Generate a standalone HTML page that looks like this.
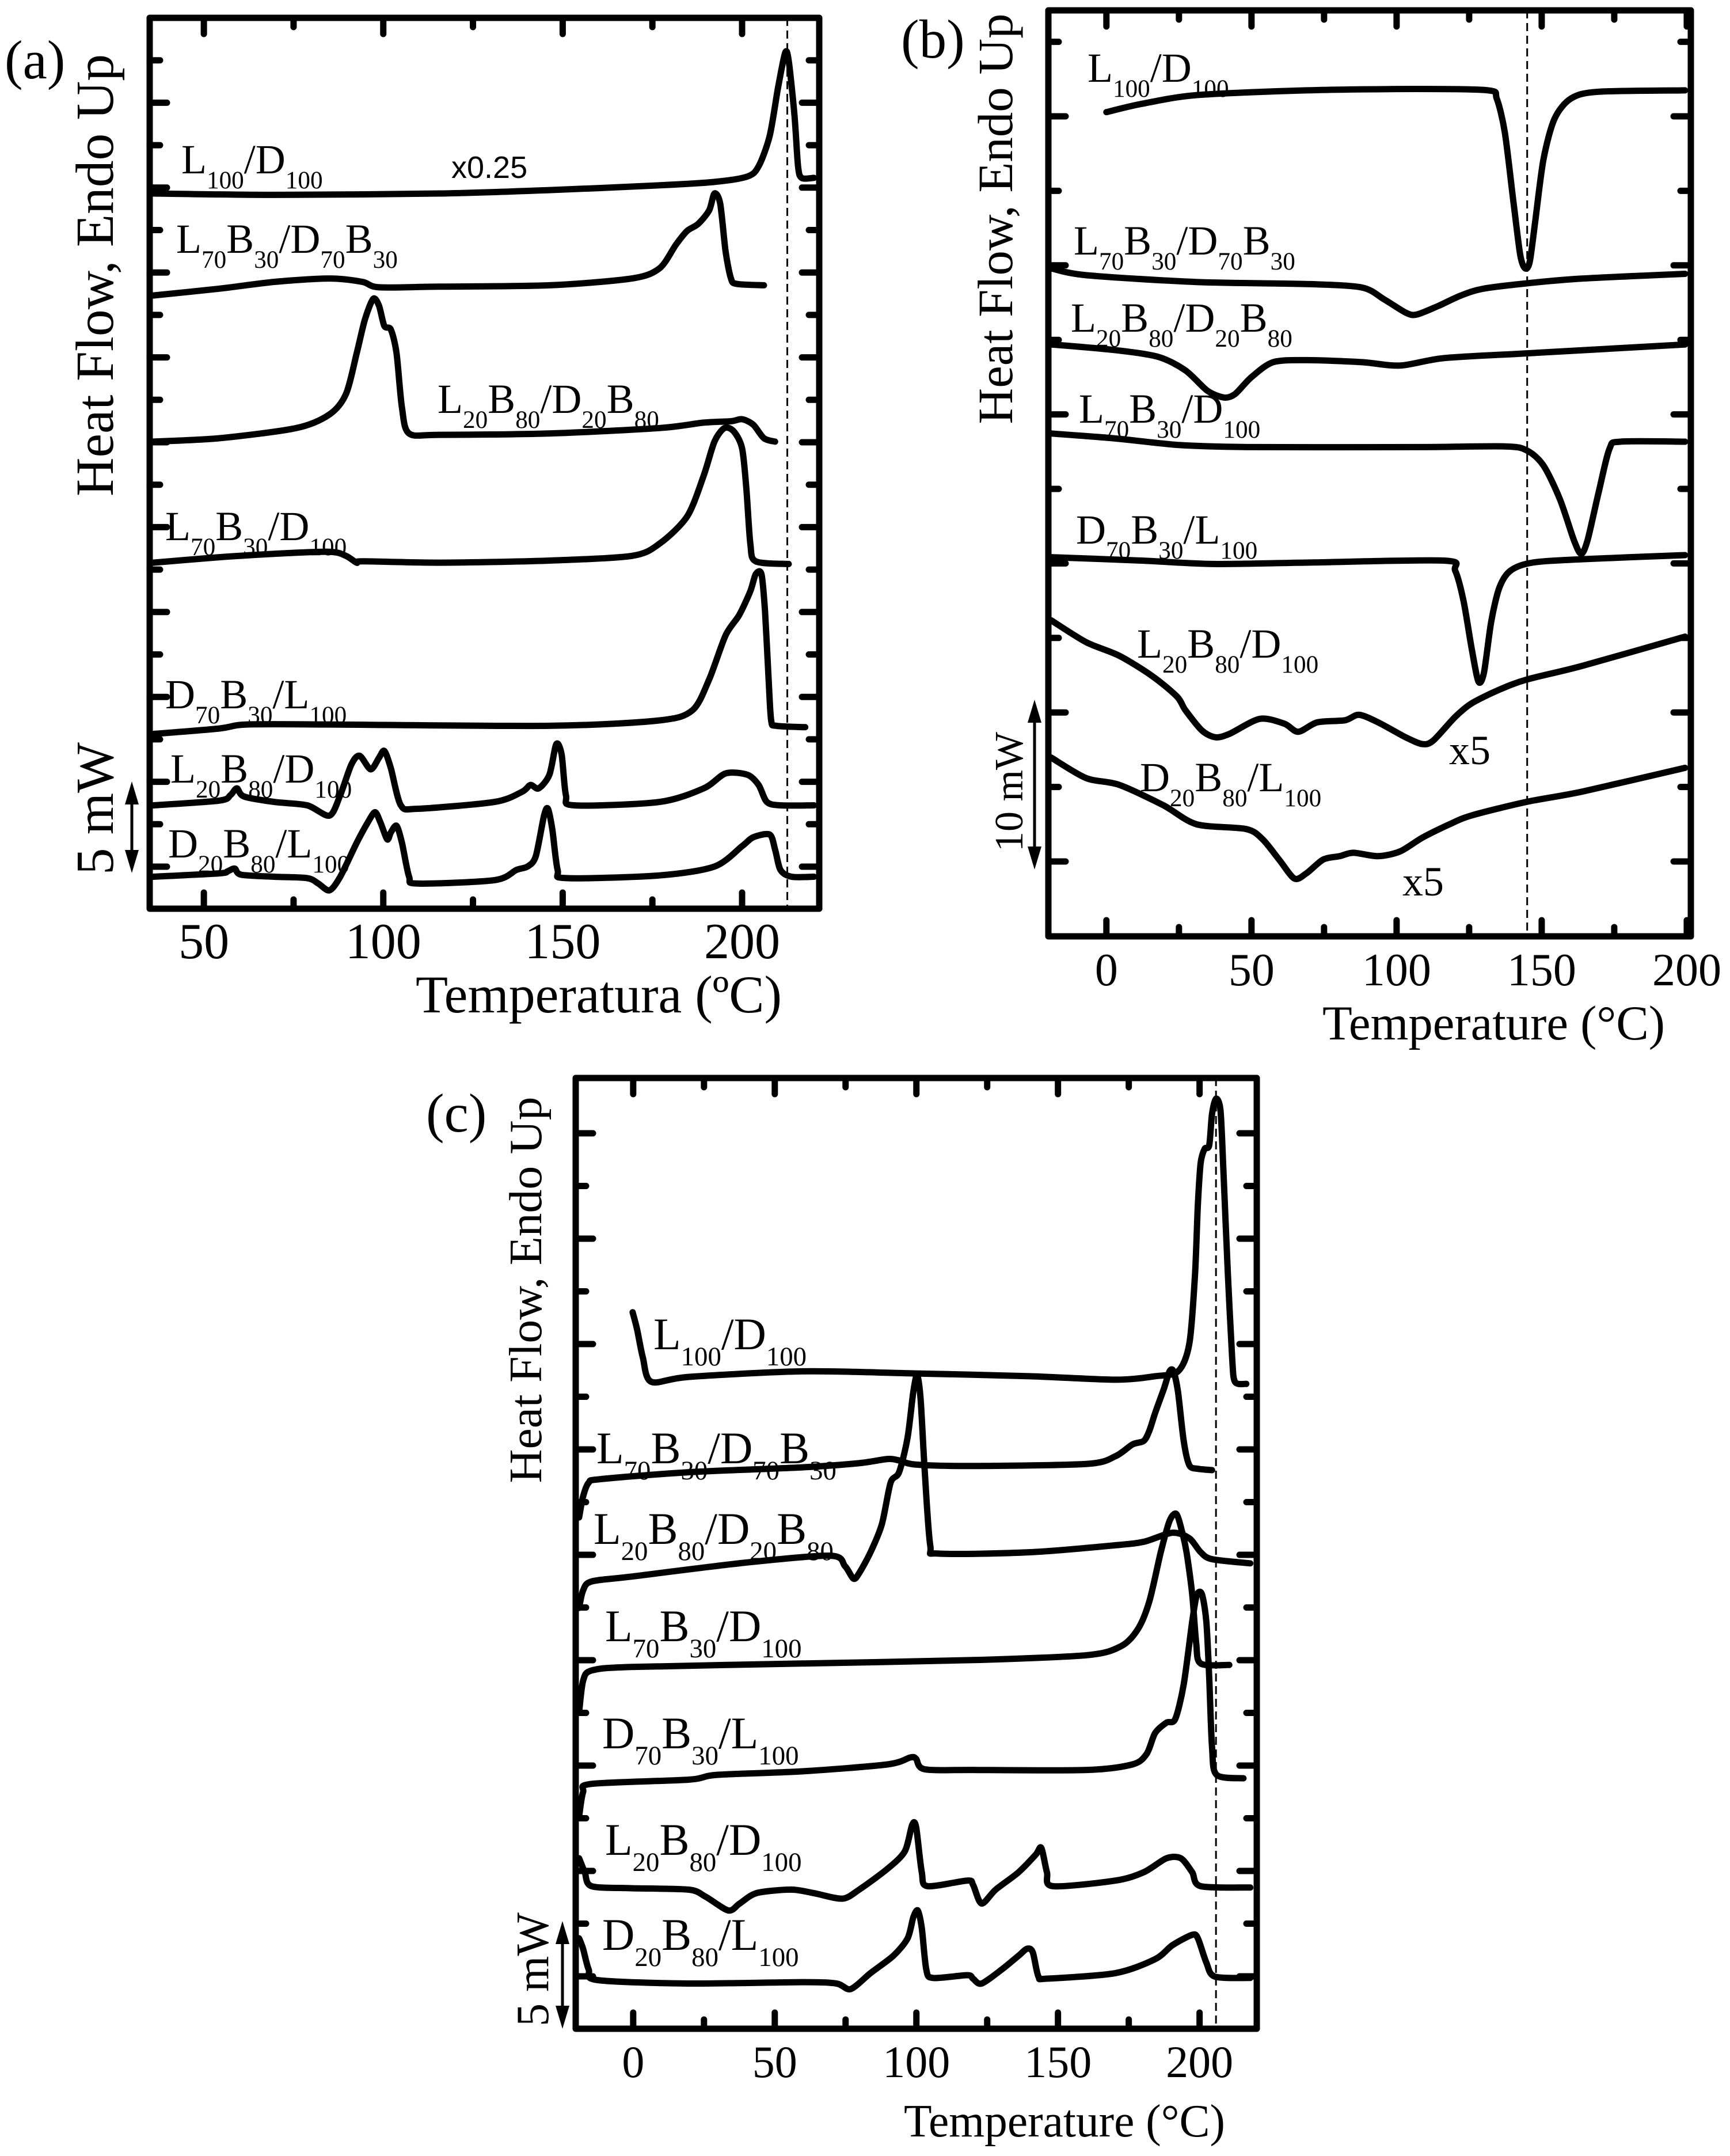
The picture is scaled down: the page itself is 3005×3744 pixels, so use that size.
<!DOCTYPE html>
<html><head><meta charset="utf-8"><style>
html,body{margin:0;padding:0;background:#fff;}
svg{display:block;}
text{font-family:"Liberation Serif",serif;fill:#000;}
</style></head><body>
<svg id="fig" xmlns="http://www.w3.org/2000/svg" width="3005" height="3744" viewBox="0 0 3005 3744"></svg>
<script>
// ---------- Panel (a) data ----------
const aT1=[35.9,69.6,115.6,146.3,177,192.3,201.5,204.6,207.7,210,212,213,214.6,215.6,216.6,220];
const aV1=[10.52,10.50,10.52,10.57,10.64,10.69,10.77,10.92,11.37,12.07,12.59,12.47,11.67,10.92,10.75,10.75];
const aT2=[35.9,54.3,69.6,85,94.2,98.8,115.6,146.3,169.3,177,181.6,184.7,187.7,190.8,192.3,193.9,195.4,196.9,198.5,206.1];
const aV2=[9.02,9.12,9.22,9.27,9.22,9.14,9.15,9.17,9.27,9.42,9.77,9.97,10.07,10.27,10.52,10.37,9.67,9.27,9.19,9.17];
const aT3=[35.9,54.3,75.8,85,89.6,92.6,94.9,97.2,98.8,100.3,102.1,103.7,105.2,107.2,115.6,146.3,177,189.3,196.9,200,203.1,206.1,209.2];
const aV3=[6.87,6.92,7.07,7.27,7.57,8.17,8.67,8.97,8.87,8.57,8.52,8.17,7.37,6.99,6.97,6.99,7.07,7.15,7.17,7.2,7.12,6.92,6.87];
const aT4=[35.9,54.3,69.6,85,89.6,92.6,94.2,115.6,146.3,169.3,177,184.7,189.3,192.3,195.1,197.7,200,201.2,202.3,203.8,213];
const aV4=[5.09,5.17,5.22,5.25,5.19,5.09,5.11,5.09,5.12,5.19,5.37,5.77,6.37,6.87,7.07,7.02,6.77,6.17,5.37,5.11,5.07];
const aT5=[35.9,54.3,62,85,146.3,177,186.2,190.8,195.4,199.2,202.3,203.8,205.4,206.4,207.4,208.1,209.5,217.6];
const aV5=[2.57,2.65,2.71,2.71,2.69,2.77,2.92,3.37,4.02,4.32,4.67,4.92,4.92,4.37,3.37,2.77,2.69,2.67];
const aT6=[35.9,54.3,57.4,59.2,61.2,69.6,78.8,85,88,91.1,93.4,96.5,98.8,100.3,102.1,104.9,109.5,131,138.7,141,143.3,146.3,148.2,149.7,150.9,153.2,177,189.3,195.4,201.5,204.6,206.9,210.7,220];
const aV6=[1.52,1.59,1.67,1.77,1.65,1.57,1.52,1.37,1.67,2.12,2.25,2.05,2.22,2.32,2.07,1.52,1.47,1.57,1.72,1.82,1.77,1.97,2.42,2.27,1.67,1.52,1.57,1.77,1.99,1.97,1.82,1.57,1.52,1.52];
const aT7=[35.9,54.3,56.6,58.6,60.4,69.6,78.8,81.9,85,88,92.6,95.7,97.7,99.2,101.1,102.1,103.7,105.2,107.2,109.5,131,137.1,140.2,142.5,144.8,145.9,147.1,148.6,150.9,177,192.3,200,203.1,207.7,209.2,210.7,213.8,220];
const aV7=[0.47,0.52,0.55,0.59,0.5,0.47,0.45,0.37,0.27,0.47,0.97,1.27,1.42,1.27,1.02,1.12,1.22,0.97,0.47,0.37,0.42,0.57,0.62,0.77,1.37,1.47,1.17,0.57,0.45,0.49,0.62,0.92,1.05,1.09,0.87,0.57,0.47,0.47];
const aXTicks=[50,75,100,125,150,175,200];
const aXLabels=[50,100,150,200];

// ---------- Panel (b) data ----------
const bT1=[0,12,31,68.9,106.9,131.6,134.5,137.3,140.2,142.6,144.3,145.9,147.8,150.6,154.4,160.1,169.6,199.4];
const bV1=[12.13,12.25,12.38,12.45,12.47,12.45,12.33,11.83,10.83,10.03,9.83,9.93,10.53,11.43,12.03,12.33,12.43,12.45];
const bT2=[-19,-7,31,68.9,87.9,95.5,103.1,106.9,114.5,122.1,129.7,144.9,163.9,199.4];
const bV2=[9.83,9.73,9.63,9.6,9.55,9.38,9.18,9.15,9.28,9.43,9.53,9.61,9.68,9.75];
const bT3=[-19,2.5,17.7,27.2,34.8,40.5,44.3,50,57.5,68.9,87.9,101.2,116.4,144.9,199.4];
const bV3=[8.71,8.63,8.53,8.33,8.03,7.93,7.98,8.23,8.45,8.48,8.45,8.4,8.51,8.58,8.71];
const bT4=[-19,2.5,25.3,50,106.9,137.3,144.9,150.6,156.3,161.1,163.6,165.8,169.6,173.4,177.2,199.4];
const bV4=[7.4,7.33,7.23,7.2,7.2,7.21,7.15,6.93,6.43,5.83,5.63,5.83,6.53,7.18,7.28,7.28];
const bT5=[-19,12,36.7,68.9,116.4,120.2,123.1,125.9,128.2,130.1,132.6,135.4,139.2,146.8,163.9,199.4];
const bV5=[5.58,5.53,5.48,5.5,5.53,5.38,4.93,4.23,3.75,3.88,4.63,5.13,5.38,5.5,5.55,5.61];
const bT6=[-19,-7,4.4,15.8,24.3,27.2,32.9,37.6,42.4,52.8,61.3,66.1,72.7,82.2,87,93.6,103.1,108.8,112.6,120.2,125.9,135.4,144.9,163.9,199.4];
const bV6=[4.65,4.33,4.13,3.83,3.53,3.33,3.03,2.93,2.98,3.2,3.13,3.01,3.15,3.18,3.26,3.15,2.93,2.83,2.88,3.23,3.43,3.63,3.78,3.98,4.41];
const bT7=[-19,-7,4.4,19.6,31,48.1,53.8,59.5,64.8,69,74.7,80.4,85.1,93.6,101.2,108.8,118.3,125.9,144.9,163.9,199.4];
const bV7=[2.63,2.33,2.23,1.93,1.65,1.58,1.43,1.13,0.85,0.93,1.13,1.18,1.23,1.18,1.25,1.45,1.65,1.78,1.98,2.13,2.48];
const bXTicks=[0,25,50,75,100,125,150,175,200];
const bXLabels=[0,50,100,150,200];

// ---------- Panel (c) data ----------
const cT1=[-0.2,1.4,3.4,6.4,19.5,59.7,99.9,140.1,170.3,184.3,192.4,196.4,198.4,199.4,200.4,201.8,203.4,204.4,205.8,207.4,208.4,210,211.5,212.5,216.5];
const cV1=[10.3,10.05,9.65,9.3,9.37,9.45,9.42,9.38,9.33,9.38,9.45,9.85,10.85,11.85,12.45,12.65,12.7,13.15,13.37,13.2,12.35,10.85,9.65,9.3,9.27];
const cT2=[-19.1,-17.7,-15.7,-11.7,19.5,59.7,79.8,89.8,93.9,99.9,120,160.2,170.3,176.3,180.3,182.3,184.3,187.4,189.4,190.8,192.4,194.4,196.4,199.4,204.4];
const cV2=[7.35,7.65,7.85,7.9,8,8.07,8.13,8.19,8.17,8.11,8.09,8.12,8.23,8.4,8.45,8.6,8.85,9.2,9.45,9.45,9.15,8.45,8.1,8.05,8.03];
const cT3=[-19.1,-17.7,-14.7,-0.6,39.6,69.7,74.8,77.8,79.8,83.8,87.8,90.9,93.9,96.9,98.9,100.3,101.5,102.9,104.9,107.9,140.1,170.3,180.3,190.4,196.4,200.4,204.4,217.9];
const cV3=[6.05,6.3,6.43,6.5,6.7,6.8,6.65,6.47,6.55,6.85,7.25,7.85,8,8.5,9.15,9.4,9.05,8.05,6.95,6.83,6.85,6.95,7,7.13,7.05,6.85,6.75,6.69];
const cT4=[-19.1,-17.7,-14.7,-0.6,59.7,120,160.2,172.3,178.3,182.3,186.3,189.4,191.8,193.8,195.4,197.4,198.8,200.4,210.5];
const cV4=[4.55,5,5.15,5.2,5.25,5.3,5.37,5.5,5.75,6.15,6.85,7.3,7.4,7.15,6.85,6.25,5.55,5.25,5.23];
const cT5=[-19.1,-17.7,-14.7,19.5,29.6,59.7,89.8,97.9,99.9,102.9,120,160.2,176.3,181.3,184.3,188.3,191.4,194.4,197.4,199,200.8,202.4,203.4,204.4,206,215.5];
const cV5=[3.05,3.4,3.52,3.58,3.65,3.7,3.8,3.9,3.88,3.73,3.72,3.72,3.8,3.95,4.25,4.4,4.45,4.95,5.85,6.23,6.25,5.85,5.05,4.05,3.65,3.6];
const cT6=[-19.1,-17.1,-14.7,-0.6,19.5,25.5,33.6,37.6,43.6,55.7,63.7,73.8,79.8,89.8,95.9,98.5,99.9,101.9,103.9,118,120,123,128,136.1,142.1,144.1,146.1,148.2,170.3,180.3,188.3,193.4,197.4,200.4,217.9];
const cV6=[2.45,2.25,2.05,2.02,2,1.9,1.7,1.8,1.95,2,1.95,1.87,2,2.3,2.55,2.93,2.9,2.25,2.05,2.13,2.07,1.8,2,2.25,2.5,2.6,2.25,2.05,2.13,2.25,2.45,2.45,2.25,2.05,2.03];
const cT7=[-19.1,-17.7,-15.7,-12.7,19.5,59.7,71.8,76.8,83.8,91.9,96.9,98.9,100.5,101.9,103.5,105.9,118,120,123,130.1,136.1,139.1,141.1,143.1,146.1,170.3,184.3,190.4,197.4,199.4,202.4,205.4,217.9];
const cV7=[1.3,1.15,0.85,0.7,0.65,0.67,0.65,0.57,0.8,1.05,1.3,1.6,1.7,1.45,0.85,0.73,0.77,0.72,0.65,0.85,1.05,1.15,1.1,0.75,0.72,0.8,1,1.2,1.35,1.3,0.95,0.75,0.73];
const cXTicks=[0,25,50,75,100,125,150,175,200];
const cXLabels=[0,50,100,150,200];

const NS="http://www.w3.org/2000/svg";
const svg=document.getElementById('fig');
function mk(tag,attrs,parent){const e=document.createElementNS(NS,tag);for(const k in attrs)e.setAttribute(k,attrs[k]);(parent||svg).appendChild(e);return e;}

function smoothPath(P){
  let d='M'+P[0][0].toFixed(1)+','+P[0][1].toFixed(1);
  for(let i=0;i<P.length-1;i++){
    const p0=P[i-1]||P[i],p1=P[i],p2=P[i+1],p3=P[i+2]||P[i+1];
    const k=0.14;
    const c1=[p1[0]+(p2[0]-p0[0])*k,p1[1]+(p2[1]-p0[1])*k];
    const c2=[p2[0]-(p3[0]-p1[0])*k,p2[1]-(p3[1]-p1[1])*k];
    d+=' C'+c1[0].toFixed(1)+','+c1[1].toFixed(1)+' '+c2[0].toFixed(1)+','+c2[1].toFixed(1)+' '+p2[0].toFixed(1)+','+p2[1].toFixed(1);
  }
  return d;
}

function panel(P){
  const g=mk('g',{});
  
  
  const xs=t=>P.x0+(t-P.tmin)/(P.tmax-P.tmin)*(P.x1-P.x0);
  const ys=v=>P.bottom-v*P.vs;
  P.curves.forEach((c,i)=>{
    const pts=c[0].map((t,j)=>[xs(t),ys(c[1][j])]);
    const pl=mk('path',{d:smoothPath(pts),fill:'none',stroke:'#000','stroke-width':11,'stroke-linejoin':'round','stroke-linecap':'round'},g);
    
    
  });
  const dl=mk('line',{x1:xs(P.dash),x2:xs(P.dash),y1:P.top,y2:P.bottom,stroke:'#000','stroke-width':3,'stroke-dasharray':'14,8'},g);
  
  
  const fr=mk('rect',{x:P.x0,y:P.top,width:P.x1-P.x0,height:P.bottom-P.top,fill:'none',stroke:'#000','stroke-width':11,'stroke-linejoin':'round'},g);
  
  
  P.xticks.forEach(t=>{
    const maj=P.xlabels.includes(t);const L=maj?28:16;const x=xs(t);
    const t1=mk('line',{x1:x,x2:x,y1:P.bottom,y2:P.bottom-L,stroke:'#000','stroke-width':11,'stroke-linecap':'round'},g);
    
    
    const t2=mk('line',{x1:x,x2:x,y1:P.top,y2:P.top+L,stroke:'#000','stroke-width':11,'stroke-linecap':'round'},g);
    
    
  });
  P.xlabels.forEach(t=>{
    const tx=mk('text',{x:xs(t),y:P.labY,'font-size':P.tickFs,'text-anchor':'middle'},g);
    tx.textContent=String(t);
    
    
  });
  let k=0;
  for(let y=P.ytick0;y>P.top+20;y-=P.ystep){
    const L=(k%2===0)?30:18;k++;
    const l1=mk('line',{x1:P.x0,x2:P.x0+L,y1:y,y2:y,stroke:'#000','stroke-width':11,'stroke-linecap':'round'},g);
    
    
    const l2=mk('line',{x1:P.x1,x2:P.x1-L,y1:y,y2:y,stroke:'#000','stroke-width':11,'stroke-linecap':'round'},g);
    
    
  }
  const xt=mk('text',{x:P.xtX,y:P.xtY,'font-size':P.xtFs,textLength:P.xtLen,lengthAdjust:'spacingAndGlyphs'},g);
  xt.textContent=P.xtitle;
  
  
  const yt=mk('text',{x:0,y:0,'font-size':P.ytFs,'text-anchor':'middle',textLength:P.ytLen,lengthAdjust:'spacingAndGlyphs',transform:`translate(${P.ytX},${P.ytY}) rotate(-90)`},g);
  yt.textContent='Heat Flow, Endo Up';
  
  
  const pl=mk('text',{x:P.letter[0],y:P.letter[1],'font-size':95},g);
  pl.textContent=P.letter[2];
  
  
  const sb=mk('g',{},g);
  
  
  const ax=P.arrow[0],ay1=P.arrow[1],ay2=P.arrow[2];
  mk('line',{x1:ax,x2:ax,y1:ay1+35,y2:ay2-35,stroke:'#000','stroke-width':5},sb);
  mk('polygon',{points:`${ax},${ay1} ${ax-12},${ay1+40} ${ax+12},${ay1+40}`,fill:'#000'},sb);
  mk('polygon',{points:`${ax},${ay2} ${ax-12},${ay2-40} ${ax+12},${ay2-40}`,fill:'#000'},sb);
  const st=mk('text',{x:0,y:0,'font-size':P.sbFs,'text-anchor':'middle',transform:`translate(${P.sbX},${P.sbY}) rotate(-90)`},sb);
  st.textContent=P.sbText;
  P.labels.forEach(L=>{
    const t=mk('text',{x:L[0],y:L[1],'font-size':P.lfs},g);
    
    
    let sub=false;
    L[2].forEach(p=>{
      const ts=mk('tspan',{},t);
      if(p[1]){ts.setAttribute('font-size',P.lfs*0.6);ts.setAttribute('dy',sub?0:P.lfs*0.36);sub=true;}
      else{if(sub){ts.setAttribute('dy',-P.lfs*0.36);}sub=false;}
      ts.textContent=p[0];
    });
  });
  (P.extra||[]).forEach(E=>{
    const t=mk('text',{x:E[0],y:E[1],'font-size':E[3]},g);
    if(E[4])t.setAttribute('style','font-family:'+E[4]);
    t.textContent=E[2];
    
    
  });
}
const L100D100=[['L',0],['100',1],['/D',0],['100',1]];
const L70B30D70B30=[['L',0],['70',1],['B',0],['30',1],['/D',0],['70',1],['B',0],['30',1]];
const L20B80D20B80=[['L',0],['20',1],['B',0],['80',1],['/D',0],['20',1],['B',0],['80',1]];
const L70B30D100=[['L',0],['70',1],['B',0],['30',1],['/D',0],['100',1]];
const D70B30L100=[['D',0],['70',1],['B',0],['30',1],['/L',0],['100',1]];
const L20B80D100=[['L',0],['20',1],['B',0],['80',1],['/D',0],['100',1]];
const D20B80L100=[['D',0],['20',1],['B',0],['80',1],['/L',0],['100',1]];

panel({id:'panel-a',name:'panel-a',x0:260,x1:1423,tmin:34.9,tmax:221.5,top:31,bottom:1578,vs:118.06,dash:212.6,
  curves:[[aT1,aV1],[aT2,aV2],[aT3,aV3],[aT4,aV4],[aT5,aV5],[aT6,aV6],[aT7,aV7]],
  xticks:aXTicks,xlabels:aXLabels,labY:1664,tickFs:88,ytick0:1505,ystep:73.7,
  xtitle:'Temperatura (ºC)',xtX:722,xtY:1758,xtFs:92,xtLen:636,
  ytX:196,ytY:478,ytFs:93,ytLen:768,letter:[8,136,'(a)'],
  arrow:[229,1357,1516],sbText:'5 mW',sbX:196,sbY:1404,sbFs:93,lfs:72,
  labels:[[315,301,L100D100],[306,439,L70B30D70B30],[760,717,L20B80D20B80],[287,938,L70B30D100],[287,1230,D70B30L100],[296,1359,L20B80D100],[292,1489,D20B80L100]],
  extra:[[784,309,'x0.25',54,'"Liberation Sans",sans-serif']]});

panel({id:'panel-b',name:'panel-b',x0:1821,x1:2937,tmin:-20,tmax:201.4,top:18,bottom:1626,vs:118,dash:145,
  curves:[[bT1,bV1],[bT2,bV2],[bT3,bV3],[bT4,bV4],[bT5,bV5],[bT6,bV6],[bT7,bV7]],
  xticks:bXTicks,xlabels:bXLabels,labY:1711,tickFs:80,ytick0:1496,ystep:129.4,
  xtitle:'Temperature (°C)',xtX:2297,xtY:1805,xtFs:85,xtLen:595,
  ytX:1758,ytY:380,ytFs:86,ytLen:713,letter:[1565,100,'(b)'],
  arrow:[1797,1215,1510],sbText:'10 mW',sbX:1776,sbY:1375,sbFs:70,lfs:72,
  labels:[[1889,142,L100D100],[1865,442,L70B30D70B30],[1860,576,L20B80D20B80],[1874,734,L70B30D100],[1869,944,D70B30L100],[1975,1142,L20B80D100],[1980,1374,D20B80L100]],
  extra:[[2517,1327,'x5',72],[2436,1555,'x5',72]]});

panel({id:'panel-c',name:'panel-c',x0:1000,x1:2183,tmin:-20.3,tmax:220.2,top:1872,bottom:3523,vs:120.8,dash:205.8,
  curves:[[cT1,cV1],[cT2,cV2],[cT3,cV3],[cT4,cV4],[cT5,cV5],[cT6,cV6],[cT7,cV7]],
  xticks:cXTicks,xlabels:cXLabels,labY:3607,tickFs:78,ytick0:3432,ystep:91.5,
  xtitle:'Temperature (°C)',xtX:1570,xtY:3710,xtFs:80,xtLen:558,
  ytX:940,ytY:2240,ytFs:81,ytLen:671,letter:[740,1965,'(c)'],
  arrow:[977,3336,3523],sbText:'5 mW',sbX:952,sbY:3420,sbFs:80,lfs:78,
  labels:[[1135,2343,L100D100],[1036,2541,L70B30D70B30],[1031,2681,L20B80D20B80],[1051,2850,L70B30D100],[1046,3036,D70B30L100],[1051,3221,L20B80D100],[1046,3386,D20B80L100]]});
</script>
</body></html>
